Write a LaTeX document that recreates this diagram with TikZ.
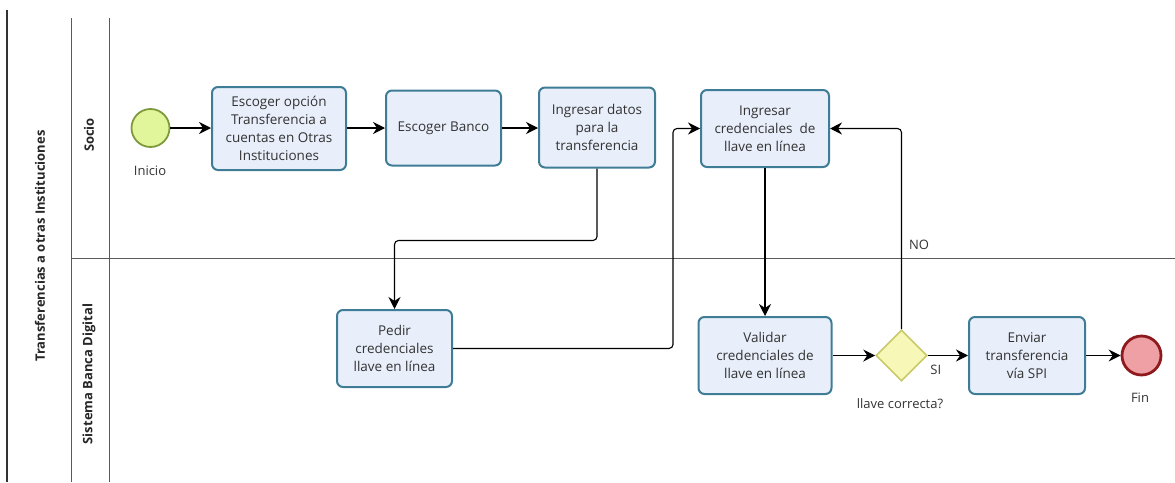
\documentclass[tikz,border=0pt]{standalone}
\usepackage{fontspec}
\setmainfont{Open Sans}
\usetikzlibrary{arrows.meta,shapes.geometric,calc}

\definecolor{taskfill}{HTML}{E8EEFA}
\definecolor{taskline}{HTML}{3F7D96}
\definecolor{startfill}{HTML}{E1F59A}
\definecolor{startline}{HTML}{7E9A3C}
\definecolor{endfill}{HTML}{EEA0A5}
\definecolor{endline}{HTML}{8E1A1E}
\definecolor{gwfill}{HTML}{F7F7B8}
\definecolor{gwline}{HTML}{C9C96A}
\definecolor{lanegray}{HTML}{5A5A5A}
\definecolor{txt}{HTML}{333333}

\tikzset{
  task/.style={rectangle, rounded corners=6pt, draw=taskline, fill=taskfill,
    line width=2pt, align=center, text=txt, inner sep=2pt,
    font=\fontsize{13.5}{18}\selectfont},
  startev/.style={circle, draw=startline, fill=startfill, line width=1.8pt,
    minimum size=38pt, inner sep=0pt},
  endev/.style={circle, draw=endline, fill=endfill, line width=2.8pt,
    minimum size=39pt, inner sep=0pt},
  gateway/.style={diamond, aspect=1, draw=gwline, fill=gwfill, line width=1.6pt,
    minimum size=51pt, inner sep=0pt},
  flow/.style={line width=1.1pt, draw=black, rounded corners=4pt,
    -{Stealth[length=12pt,width=12pt,inset=4pt]}},
  lbl/.style={text=txt, font=\fontsize{13}{16}\selectfont, inner sep=0pt},
  lanetitle/.style={rotate=90, text=black!85, font=\fontsize{13}{16}\selectfont\bfseries, inner sep=0pt},
  laneline/.style={draw=lanegray, line width=1pt}
}

\begin{document}
\begin{tikzpicture}[x=1pt,y=-1pt]
\useasboundingbox (0,0) rectangle (1175,482);

% pool and lane frame
\draw[draw=black!80, line width=1.5pt] (7,10) -- (7,482);
\draw[laneline] (71,18) -- (71,482);
\draw[laneline] (109,18) -- (109,482);
\draw[laneline] (71,258.5) -- (1175,258.5);

\node[lanetitle] (pool) at (40,246) {Transferencias a otras Instituciones};
\node[lanetitle] (lane1) at (89,135) {Socio};
\node[lanetitle] (lane2) at (89,374) {Sistema Banca Digital};

% events, tasks and gateway
\node[startev] (start) at (150.5,128) {};
\node[lbl] (startlbl) at (150,171) {Inicio};

\node[task, minimum width=134pt, minimum height=83pt] (t1) at (279,128.5)
  {Escoger opción\\Transferencia a\\cuentas en Otras\\Instituciones};
\node[task, minimum width=115pt, minimum height=75pt] (t2) at (443.5,128)
  {Escoger Banco};
\node[task, minimum width=116pt, minimum height=80pt] (t3) at (597,127.5)
  {Ingresar datos\\para la\\transferencia};
\node[task, minimum width=128pt, minimum height=77pt] (t4) at (765,128.5)
  {Ingresar\\credenciales\ \ de\\llave en línea};
\node[task, minimum width=115pt, minimum height=77pt] (t5) at (394.5,348.5)
  {Pedir\\credenciales\\llave en línea};
\node[task, minimum width=133pt, minimum height=77pt] (t6) at (765,355.5)
  {Validar\\credenciales de\\llave en línea};
\node[gateway] (gw) at (901.5,355.5) {};
\node[lbl] (gwlbl) at (900,404) {llave correcta?};
\node[task, minimum width=116pt, minimum height=77pt] (t7) at (1027,355.5)
  {Enviar\\transferencia\\vía SPI};
\node[endev] (end) at (1141.5,355.5) {};
\node[lbl] (endlbl) at (1140,398) {Fin};

% sequence flows
\draw[flow] (start.east) -- (start.east -| t1.west);
\draw[flow] (t1.east |- t2.west) -- (t2.west);
\draw[flow] (t2.east) -- (t2.east -| t3.west);
\draw[flow] (t3.south) -- ++(0,72) -| (t5.north);
\draw[flow] (t5.east) -- ++(220,0) |- (t4.west);
\draw[flow] (t4.south) -- (t4.south |- t6.north);
\draw[flow] (t6.east) -- (gw.west);
\draw[flow] (gw.east) -- (t7.west)
  node[lbl, pos=0.2, below=9pt] (si) {SI};
\draw[flow] (gw.north) |- (t4.east);
\node[lbl] (no) at (919,245) {NO};
\draw[flow] (t7.east) -- (end.west);
\end{tikzpicture}
\end{document}
